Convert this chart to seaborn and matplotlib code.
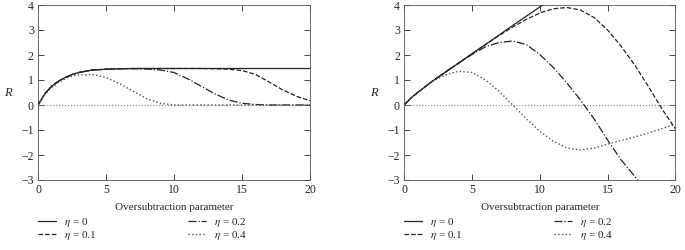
import matplotlib
matplotlib.use('Agg')
import matplotlib.pyplot as plt
import seaborn as sns
import pandas as pd

# Values (left panel)
x_left = [0, 0.5, 1, 1.5, 2, 2.5, 3, 4, 5, 6, 7, 8, 9, 10, 11, 12, 13, 14, 15, 16, 17, 18, 19, 20]
left_eta0 = [0, 0.45, 0.75, 0.95, 1.1, 1.22, 1.3, 1.4, 1.43, 1.45, 1.46, 1.46, 1.46, 1.46, 1.46, 1.46, 1.46, 1.46, 1.46, 1.46, 1.46, 1.46, 1.46, 1.46]
left_eta01 = [0, 0.45, 0.75, 0.95, 1.1, 1.22, 1.3, 1.4, 1.43, 1.45, 1.46, 1.46, 1.46, 1.46, 1.46, 1.46, 1.45, 1.43, 1.38, 1.22, 0.92, 0.6, 0.35, 0.17]
left_eta02 = [0, 0.45, 0.75, 0.95, 1.1, 1.22, 1.3, 1.4, 1.43, 1.45, 1.45, 1.44, 1.4, 1.3, 1.05, 0.75, 0.45, 0.2, 0.07, 0.02, 0.0, 0.0, 0.0, 0.0]
left_eta04 = [0, 0.42, 0.7, 0.9, 1.05, 1.15, 1.2, 1.22, 1.1, 0.85, 0.55, 0.25, 0.07, 0.0, 0.0, 0.0, 0.0, 0.0, 0.0, 0.0, 0.0, 0.0, 0.0, 0.0]

# Values (right panel)
x_right = [0, 0.5, 1, 2, 3, 4, 5, 6, 7, 8, 9, 10, 11, 12, 13, 14, 15, 16, 17, 18, 19, 20]
right_eta0 = [0, 0.28, 0.5, 0.92, 1.3, 1.67, 2.05, 2.42, 2.8, 3.18, 3.55, 3.92, 4.3, None, None, None, None, None, None, None, None, None]
right_eta01 = [0, 0.28, 0.5, 0.92, 1.3, 1.67, 2.05, 2.42, 2.78, 3.12, 3.42, 3.68, 3.85, 3.9, 3.8, 3.5, 3.0, 2.35, 1.6, 0.75, -0.15, -0.95]
right_eta02 = [0, 0.28, 0.5, 0.92, 1.3, 1.67, 2.02, 2.33, 2.5, 2.56, 2.42, 2.02, 1.5, 0.88, 0.2, -0.55, -1.4, -2.2, -2.85, -3.5, None, None]
right_eta04 = [0, 0.28, 0.5, 0.92, 1.2, 1.35, 1.3, 1.0, 0.55, 0.0, -0.55, -1.05, -1.45, -1.72, -1.8, -1.72, -1.57, -1.42, -1.28, -1.12, -0.95, -0.77]

labels = [r'$\eta$ = 0', r'$\eta$ = 0.1', r'$\eta$ = 0.2', r'$\eta$ = 0.4']
styles = ['-', '--', '-.', ':']
x_ticks = [0, 5, 10, 15, 20]
y_ticks = [-3, -2, -1, 0, 1, 2, 3, 4]

sns.set_style('ticks')
plt.rcParams['font.family'] = ['Liberation Serif', 'DejaVu Serif']
plt.rcParams['mathtext.fontset'] = 'stix'
plt.rcParams['xtick.direction'] = 'in'
plt.rcParams['ytick.direction'] = 'in'

fig = plt.figure(figsize=(6.85, 2.5), dpi=100)
ax_l = fig.add_axes([0.0555, 0.28, 0.397, 0.70])
ax_r = fig.add_axes([0.590, 0.28, 0.396, 0.70])

panels = [
    (ax_l, x_left, [left_eta0, left_eta01, left_eta02, left_eta04]),
    (ax_r, x_right, [right_eta0, right_eta01, right_eta02, right_eta04]),
]

for ax, xs, series in panels:
    ax.axhline(0, color='#888888', lw=0.8, ls=':', zorder=1)
    for ys, ls, lab in zip(series, styles, labels):
        df = pd.DataFrame({'x': xs, 'R': ys}).dropna()
        lw = 0.9 if ls != ':' else 1.0
        sns.lineplot(data=df, x='x', y='R', ax=ax, color='#222222' if ls != ':' else '#555555',
                     linestyle=ls, lw=lw, label=lab, sort=False, zorder=3)
    ax.set_xlim(0, 20)
    ax.set_ylim(-3, 4)
    ax.set_xticks(x_ticks)
    ax.set_yticks(y_ticks)
    ax.set_yticklabels([str(t).replace('-', '\u2212') for t in y_ticks])
    ax.tick_params(labelsize=8.5, length=4, width=0.6, top=True, right=True, pad=3)
    for s in ax.spines.values():
        s.set_linewidth(0.6)
        s.set_color('#555555')
    ax.set_xlabel('Oversubtraction parameter', fontsize=8, labelpad=5)
    ax.set_ylabel('R', fontsize=9, style='italic', rotation=0, labelpad=10, va='center')
    handles, labs = ax.get_legend_handles_labels()
    ax.legend(handles, labs, ncol=2, loc='upper left', bbox_to_anchor=(0.0, -0.205),
              frameon=False, fontsize=8, handlelength=1.6, handletextpad=0.7,
              columnspacing=8.3, labelspacing=0.0, borderaxespad=0, borderpad=0)

fig.savefig('out.png', dpi=100)
